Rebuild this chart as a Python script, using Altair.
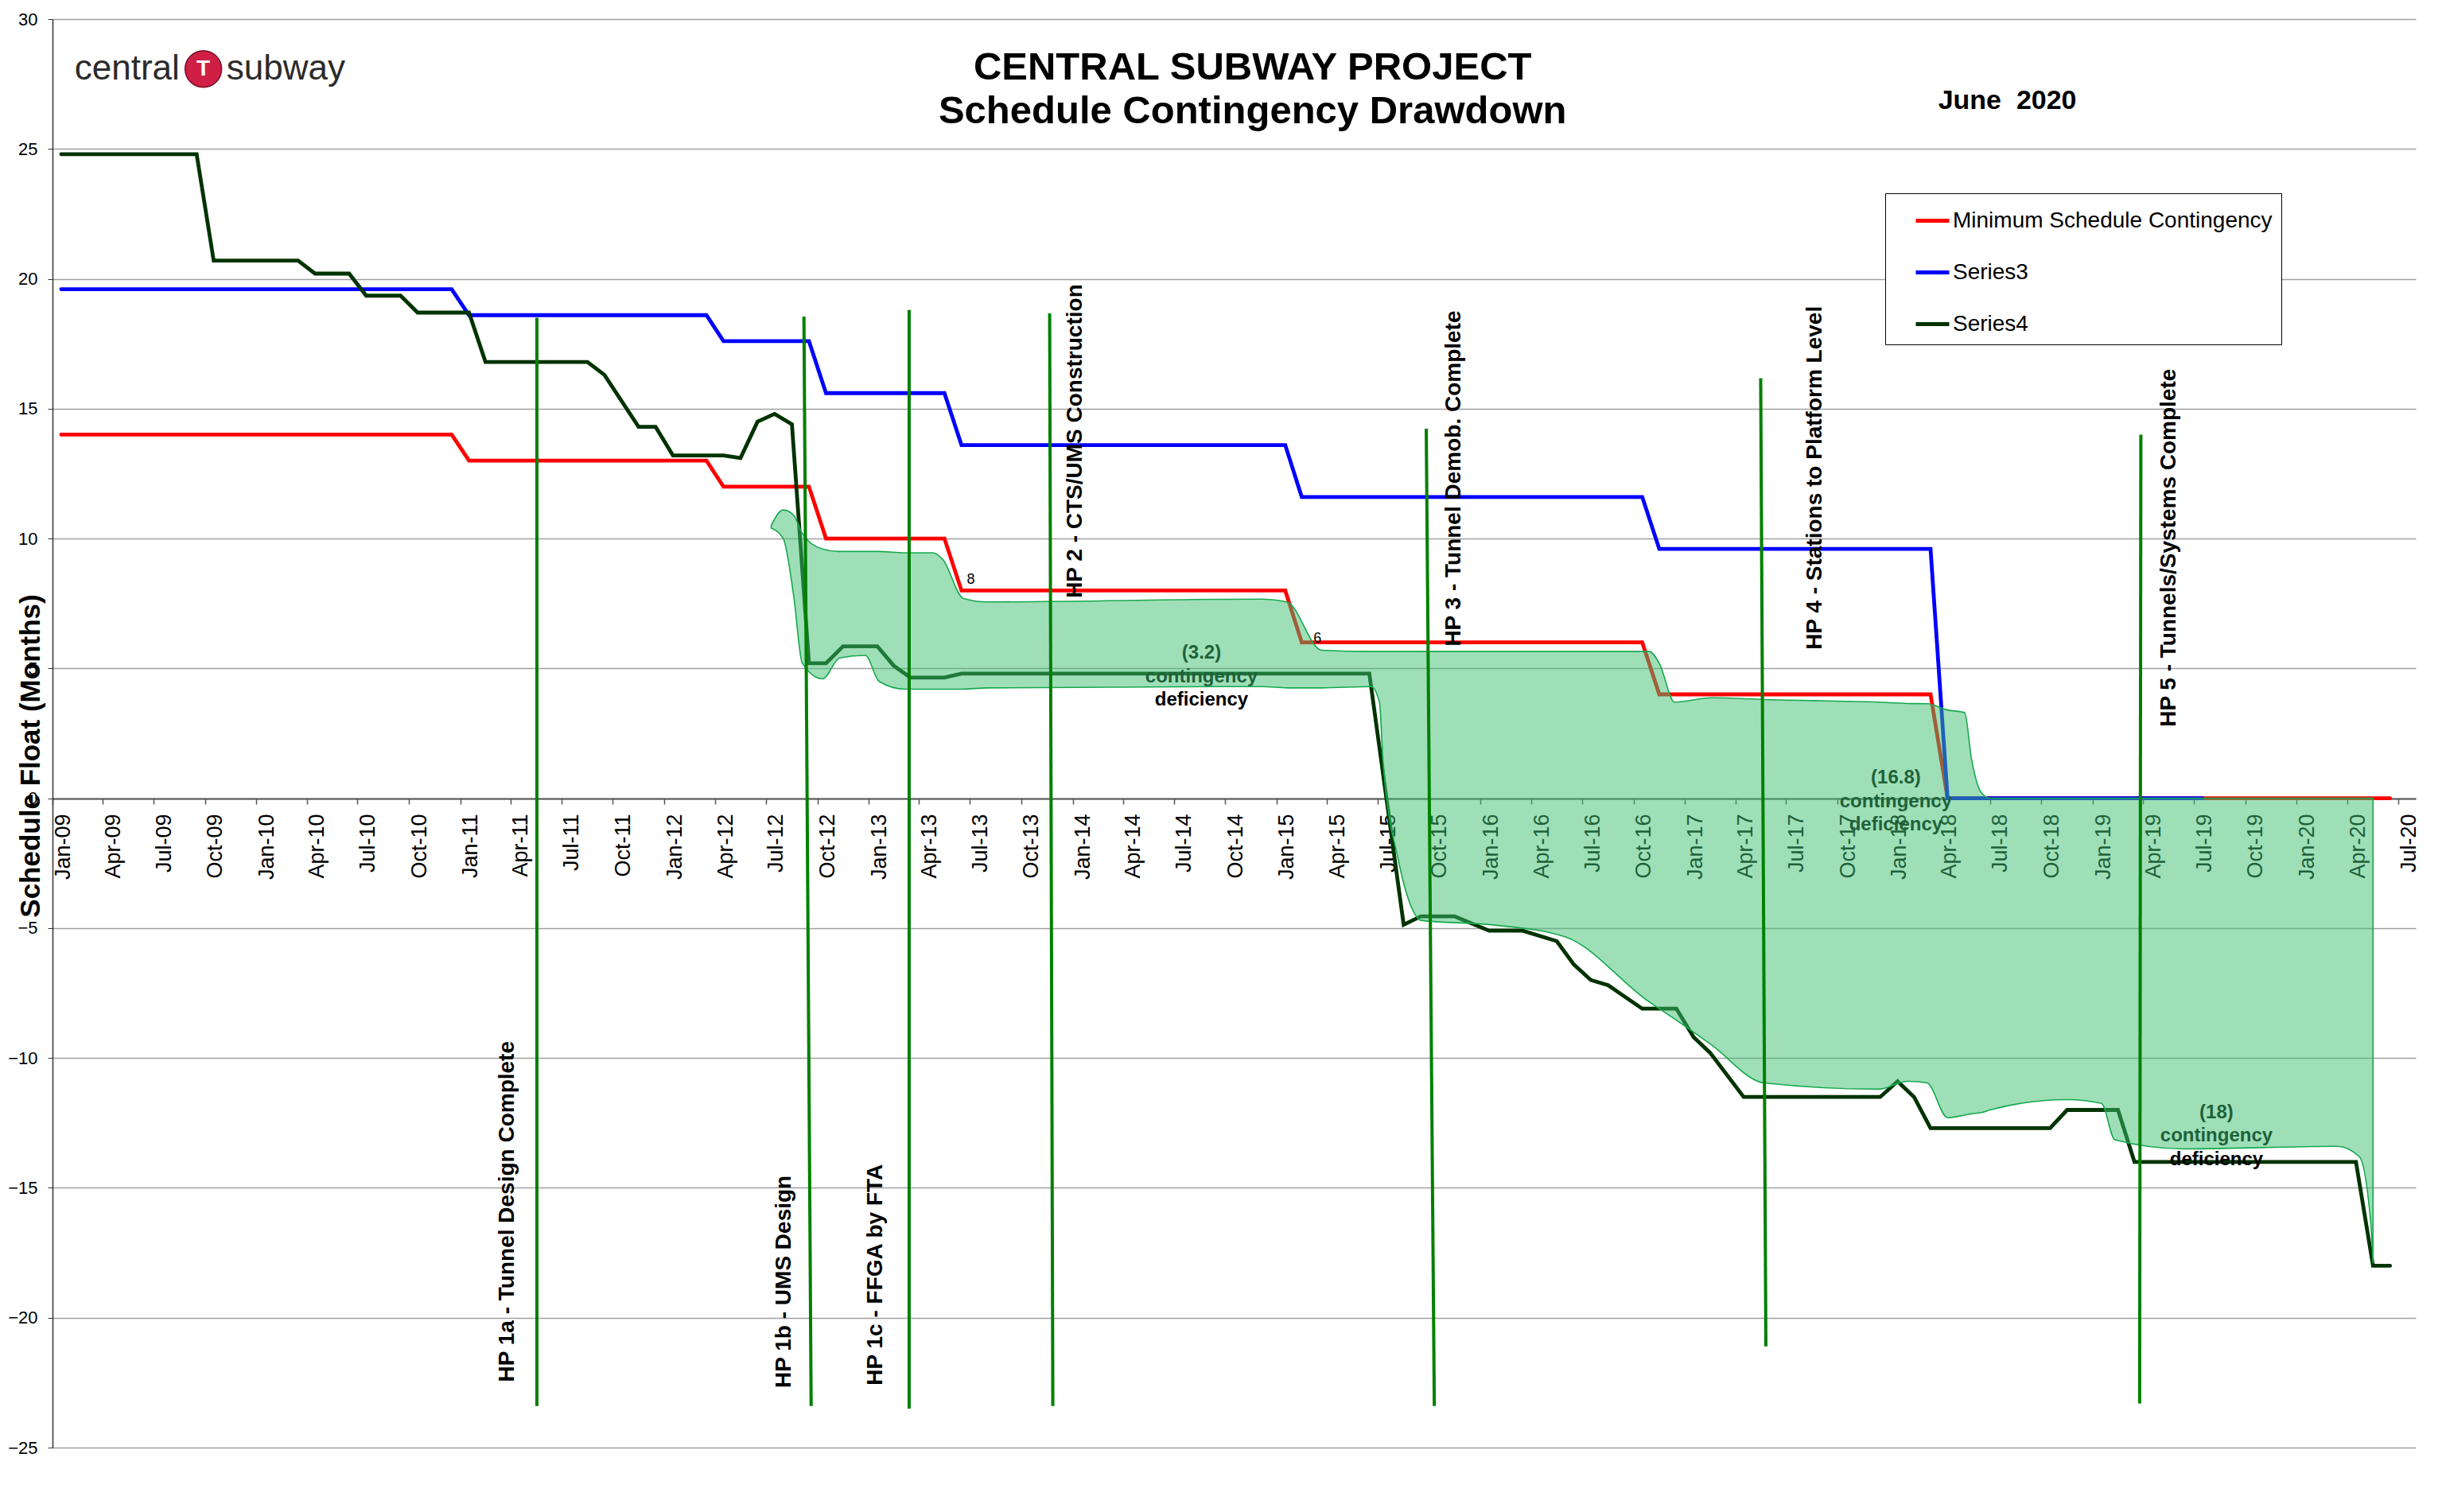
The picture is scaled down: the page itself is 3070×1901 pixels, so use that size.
import altair as alt
import pandas as pd

FONT = "Liberation Sans, Arial, sans-serif"

# ---------------- data ----------------
series_names = ["Minimum Schedule Contingency", "Series3", "Series4"]
series_colors = ["#ff0000", "#0000ff", "#003300"]

red_months = ["2009-01", "2010-12", "2011-01", "2012-03", "2012-04", "2012-09", "2012-10", "2013-05",
              "2013-06", "2015-01", "2015-02", "2016-10", "2016-11", "2018-03", "2018-04", "2020-06"]
red_values = [14, 14, 13, 13, 12, 12, 10, 10, 8, 8, 6, 6, 4, 4, 0, 0]

blue_months = ["2009-01", "2010-12", "2011-01", "2012-03", "2012-04", "2012-09", "2012-10", "2013-05",
               "2013-06", "2015-01", "2015-02", "2016-10", "2016-11", "2018-03", "2018-04", "2019-07"]
blue_values = [19.6, 19.6, 18.6, 18.6, 17.6, 17.6, 15.6, 15.6, 13.6, 13.6, 11.6, 11.6, 9.6, 9.6, 0, 0]

s4_months = ["2009-01", "2009-09", "2009-10", "2010-03", "2010-04", "2010-06", "2010-07", "2010-09",
             "2010-10", "2011-01", "2011-02", "2011-08", "2011-09", "2011-11", "2011-12", "2012-01",
             "2012-04", "2012-05", "2012-06", "2012-07", "2012-08", "2012-09", "2012-10", "2012-11",
             "2013-01", "2013-02", "2013-03", "2013-05", "2013-06", "2015-06", "2015-08", "2015-09",
             "2015-11", "2016-01", "2016-03", "2016-05", "2016-06", "2016-07", "2016-08", "2016-10",
             "2016-12", "2017-01", "2017-02", "2017-04", "2017-12", "2018-01", "2018-02", "2018-03",
             "2018-10", "2018-11", "2019-02", "2019-03", "2020-04", "2020-05", "2020-06"]
s4_values = [24.8, 24.8, 20.7, 20.7, 20.2, 20.2, 19.35, 19.35, 18.7, 18.7, 16.8, 16.8, 16.3, 14.3,
             14.3, 13.2, 13.2, 13.1, 14.5, 14.8, 14.4, 5.2, 5.2, 5.85, 5.85, 5.1, 4.65, 4.65, 4.8,
             4.8, -4.87, -4.55, -4.55, -5.1, -5.1, -5.5, -6.4, -7.0, -7.2, -8.1, -8.1, -9.2, -9.8,
             -11.5, -11.5, -10.9, -11.5, -12.7, -12.7, -12.0, -12.0, -14.0, -14.0, -18.0, -18.0]

# hand-drawn "contingency deficiency" shading (month position from Jan-09, top, bottom)
area_pos = [42.3, 43.0, 43.6, 44.1, 45.3, 46.3, 47.8, 48.6, 50.2, 51.8, 52.4, 53.6, 55.0, 71.2,
            72.6, 74.7, 77.6, 78.1, 78.3, 79.2, 80.1, 80.5, 84.6, 89.0, 93.9, 94.5, 95.4, 97.6,
            100.7, 107.4, 109.1, 110.3, 111.5, 112.5, 112.9, 113.5, 114.0, 118.5, 120.5, 121.3,
            125.4, 134.4, 135.7, 136.4, 136.5]
area_top = [10.5, 11.1, 10.9, 10.2, 9.6, 9.5, 9.5, 9.5, 9.45, 9.45, 9.2, 7.7, 7.56, 7.67,
            7.56, 5.7, 5.65, 5.65, 5.65, 5.65, 5.65, 5.65, 5.65, 5.65, 5.65, 5.2, 3.7, 3.87,
            3.8, 3.7, 3.65, 3.64, 3.4, 3.3, 1.5, 0.2, 0.0, 0.0, 0.0, 0.0,
            0.0, 0.0, 0.0, 0.0, 0.0]
area_bottom = [10.4, 10.0, 7.8, 5.2, 4.6, 5.4, 5.5, 4.5, 4.2, 4.2, 4.2, 4.2, 4.25, 4.3,
               4.25, 4.25, 4.3, 3.7, 1.5, -2.4, -4.4, -4.7, -4.87, -5.34, -7.84, -8.1, -8.5, -9.5,
               -10.96, -11.2, -10.9, -10.96, -12.3, -12.2, -12.15, -12.1, -12.0, -11.6, -11.75, -13.15,
               -13.5, -13.4, -13.8, -16.6, -17.9]

# milestone (HP) lines
hp_labels = ["HP 1a - Tunnel Design Complete", "HP 1b - UMS Design", "HP 1c - FFGA by FTA",
             "HP 2 - CTS/UMS Construction", "HP 3 - Tunnel Demob. Complete",
             "HP 4 - Stations to Platform Level", "HP 5 - Tunnels/Systems Complete"]
hp_pos_top = [28.55, 44.2, 50.43, 58.66, 80.83, 100.5, 122.87]
hp_pos_bottom = [28.55, 44.63, 50.43, 58.85, 81.3, 100.8, 122.8]
hp_val_top = [18.5, 18.55, 18.8, 18.67, 14.23, 16.17, 14.0]
hp_val_bottom = [-23.4, -23.4, -23.5, -23.4, -23.4, -21.1, -23.3]
hp_label_pos = [26.83, 43.04, 48.39, 60.16, 82.45, 103.66, 124.55]
hp_label_val = [-22.47, -22.7, -22.6, 7.71, 5.85, 5.72, 2.75]

# deficiency annotations
def_lines = ["(3.2)", "contingency", "deficiency",
             "(16.8)", "contingency", "deficiency",
             "(18)", "contingency", "deficiency"]
def_pos = [67.6, 67.6, 67.6, 108.4, 108.4, 108.4, 127.3, 127.3, 127.3]
def_val = [5.58, 4.66, 3.80, 0.77, -0.13, -1.03, -12.12, -13.0, -13.9]

small_labels = ["8", "6"]
small_pos = [54.06, 74.46]
small_val = [8.42, 6.15]

title_lines = ["CENTRAL SUBWAY PROJECT", "Schedule Contingency Drawdown"]
title_pos = [70.6, 70.6]
title_val = [27.67, 25.99]

date_text = ["June\u00a0 2020"]
date_pos = [115.0]
date_val = [26.54]

logo_left, logo_right, logo_mark = "central", "subway", "T"
logo_pos = [7.5, 8.9, 10.25]
logo_val = [27.67, 28.08, 27.67]


# ---------------- helpers ----------------
def mid_month(s):
    start = pd.Timestamp(s + "-01")
    end = start + pd.DateOffset(months=1)
    return start + (end - start) / 2


def month_pos(m):
    base = pd.Timestamp("2009-01-01")
    whole = int(m)
    start = base + pd.DateOffset(months=whole)
    end = base + pd.DateOffset(months=whole + 1)
    return start + (end - start) * (m - whole)


lines_df = pd.concat([
    pd.DataFrame({"date": [mid_month(s) for s in months], "value": vals, "series": name})
    for name, months, vals in [(series_names[0], red_months, red_values),
                               (series_names[1], blue_months, blue_values),
                               (series_names[2], s4_months, s4_values)]
], ignore_index=True)

area_df = pd.DataFrame({"date": [month_pos(m) for m in area_pos], "value": area_top, "value2": area_bottom})
hp_df = pd.DataFrame({"date": [month_pos(m) for m in hp_pos_top],
                      "date2": [month_pos(m) for m in hp_pos_bottom],
                      "value": hp_val_top, "value2": hp_val_bottom})
hp_text_df = pd.DataFrame({"date": [month_pos(m) for m in hp_label_pos], "value": hp_label_val,
                           "text": hp_labels})
def_df = pd.DataFrame({"date": [month_pos(m) for m in def_pos], "value": def_val, "text": def_lines})
small_df = pd.DataFrame({"date": [month_pos(m) for m in small_pos], "value": small_val, "text": small_labels})
title_df = pd.DataFrame({"date": [month_pos(m) for m in title_pos], "value": title_val, "text": title_lines})
date_df = pd.DataFrame({"date": [month_pos(m) for m in date_pos], "value": date_val, "text": date_text})
logo_l_df = pd.DataFrame({"date": [month_pos(logo_pos[0])], "value": [logo_val[0]], "text": [logo_left]})
logo_c_df = pd.DataFrame({"date": [month_pos(logo_pos[1])], "value": [logo_val[1]], "text": [logo_mark]})
logo_r_df = pd.DataFrame({"date": [month_pos(logo_pos[2])], "value": [logo_val[2]], "text": [logo_right]})

# ---------------- scales / axes ----------------
x_scale = alt.Scale(domain=[alt.DateTime(year=2009, month=1, date=1),
                            alt.DateTime(year=2020, month=8, date=1)])
y_scale = alt.Scale(domain=[-25, 30], nice=False, zero=False)

x_axis = alt.Axis(orient="bottom", offset=-816, format="%b-%y",
                  tickCount=alt.TimeIntervalStep(interval="month", step=3),
                  labelAngle=270, labelAlign="right", labelBaseline="top",
                  labelFontSize=27, labelColor="black", labelFont=FONT,
                  labelPadding=12, labelFlush=False, labelOverlap=False,
                  tickSize=7, tickColor="#555555", tickWidth=1.5,
                  domainColor="#555555", domainWidth=2, grid=False, title=None)
y_axis = alt.Axis(values=list(range(-25, 31, 5)), grid=True, gridColor="#a0a0a0", gridWidth=1.5,
                  labelFontSize=22, labelColor="black", labelFont=FONT, labelPadding=13,
                  tickSize=6, tickColor="#333333", domainColor="#333333", domainWidth=1.5,
                  title="Schedule Float (Months)", titleFontSize=35, titleFontWeight="bold",
                  titleColor="black", titleFont=FONT, titleAngle=270, titleX=-17, titleY=926,
                  titleAlign="center", titleBaseline="alphabetic")


def X(field="date"):
    return alt.X(f"{field}:T", scale=x_scale, axis=x_axis)


def Y(field="value"):
    return alt.Y(f"{field}:Q", scale=y_scale, axis=y_axis)


lines = alt.Chart(lines_df).mark_line(strokeWidth=4.8, strokeCap="round").encode(
    x=X(), y=Y(),
    color=alt.Color("series:N",
                    scale=alt.Scale(domain=series_names, range=series_colors),
                    legend=alt.Legend(title=None, orient="none", legendX=2304, legendY=219,
                                      symbolType="stroke", symbolSize=1764, symbolStrokeWidth=5,
                                      labelFontSize=28, labelFont=FONT, labelColor="black",
                                      labelOffset=2, padding=11, symbolOffset=25, rowPadding=27,
                                      strokeColor="black", fillColor="white", labelLimit=700)),
)

def_text = alt.Chart(def_df).mark_text(fontSize=24, fontWeight="bold", font=FONT, color="black",
                                       align="center", baseline="middle").encode(
    x=X(), y=Y(), text="text:N")

small_text = alt.Chart(small_df).mark_text(fontSize=18, font=FONT, color="black",
                                           align="center", baseline="middle").encode(
    x=X(), y=Y(), text="text:N")

area = alt.Chart(area_df).mark_area(color="#3dbf71", fillOpacity=0.5, stroke="#16a84e",
                                    strokeWidth=1.6, strokeOpacity=1, interpolate="monotone").encode(
    x=X(), y=Y(), y2="value2:Q")

rules = alt.Chart(hp_df).mark_rule(color="#008000", strokeWidth=4).encode(
    x=X(), x2="date2:T", y=Y(), y2="value2:Q")

hp_text = alt.Chart(hp_text_df).mark_text(angle=270, align="left", baseline="middle",
                                          fontSize=28, fontWeight="bold", font=FONT,
                                          color="black").encode(x=X(), y=Y(), text="text:N")

title_text = alt.Chart(title_df).mark_text(fontSize=49, fontWeight="bold", font=FONT, color="black",
                                           align="center", baseline="alphabetic").encode(
    x=X(), y=Y(), text="text:N")

date_mark = alt.Chart(date_df).mark_text(fontSize=34, fontWeight="bold", font=FONT, color="black",
                                         align="center", baseline="alphabetic").encode(
    x=X(), y=Y(), text="text:N")

logo_l = alt.Chart(logo_l_df).mark_text(fontSize=44, font=FONT, color="#2b2b2b",
                                        align="right", baseline="alphabetic").encode(
    x=X(), y=Y(), text="text:N")
logo_r = alt.Chart(logo_r_df).mark_text(fontSize=44, font=FONT, color="#2b2b2b",
                                        align="left", baseline="alphabetic").encode(
    x=X(), y=Y(), text="text:N")
logo_circle = alt.Chart(logo_c_df).mark_point(shape="circle", filled=True, size=2116,
                                              color="#cf1f45", opacity=1, stroke="#7a1028",
                                              strokeWidth=1.5).encode(x=X(), y=Y())
logo_t = alt.Chart(logo_c_df).mark_text(fontSize=28, fontWeight="bold", font=FONT, color="white",
                                        align="center", baseline="middle").encode(
    x=X(), y=Y(), text="text:N")

chart = alt.layer(
    lines, def_text, small_text, area, rules, hp_text, title_text, date_mark,
    logo_l, logo_circle, logo_t, logo_r
).properties(
    width=2971, height=1796,
    autosize=alt.AutoSizeParams(type="none"),
    padding={"left": 58, "top": 16, "right": 25, "bottom": 60},
).configure(font=FONT).configure_view(stroke=None)

chart.save("out.html", embed_options={"renderer": "svg", "actions": False})
